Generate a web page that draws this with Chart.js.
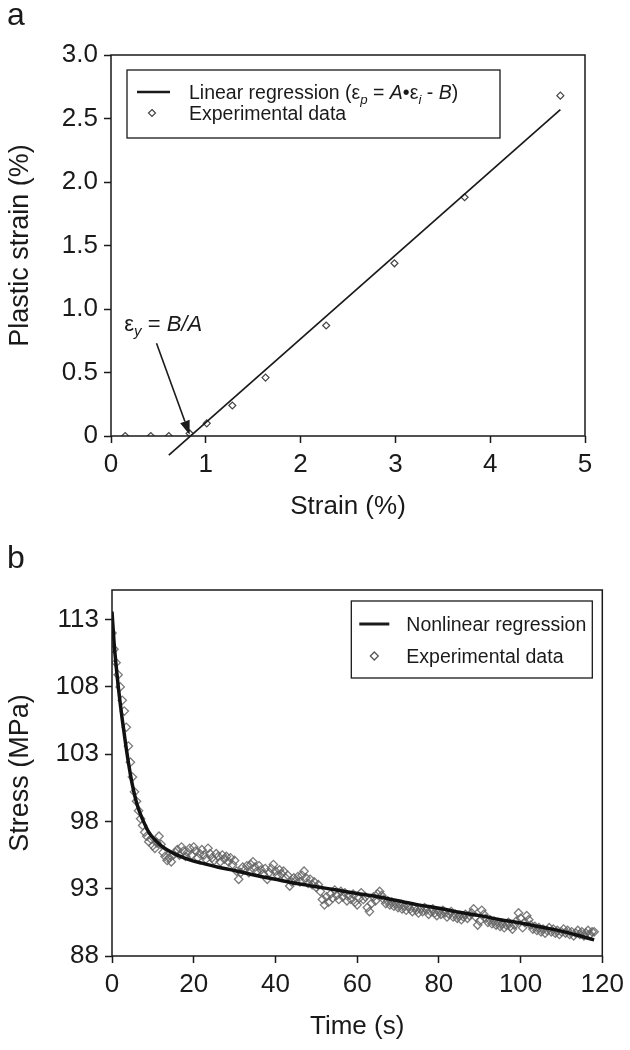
<!DOCTYPE html>
<html>
<head>
<meta charset="utf-8">
<script src="https://cdn.jsdelivr.net/npm/chart.js@4.4.1/dist/chart.umd.min.js"></script>
<style>
  html, body { margin: 0; padding: 0; background: #fff; }
  #wrap { position: relative; width: 630px; height: 1050px; }
  canvas { position: absolute; left: 0; }
  #chartA { top: 0; }
  #chartB { top: 530px; }
</style>
</head>
<body>
<div id="wrap">
  <canvas id="chartA" width="630" height="530"></canvas>
  <canvas id="chartB" width="630" height="520"></canvas>
</div>
<script>
// panel a: plastic strain vs strain
var strainX = [0.15, 0.42, 0.61, 0.83, 1.01, 1.28, 1.63, 2.27, 2.99, 3.73, 4.74]
var plasticY = [0, 0, 0, 0.02, 0.10, 0.24, 0.46, 0.87, 1.36, 1.88, 2.68]
var fitX = [0.61, 4.74]
var fitY = [-0.15, 2.57]
var strainTicks = [0, 1, 2, 3, 4, 5]
var plasticTicks = [0, 0.5, 1.0, 1.5, 2.0, 2.5, 3.0]
// annotation anchors in data units: arrow tail, arrow tip, label
var arrowFrom = [0.48, 0.73]
var arrowTo = [0.83, 0.01]
var noteAt = [0.14, 0.83]

// panel b: stress relaxation
var fitTime = [0, 0.5, 1, 1.5, 2, 2.5, 3, 3.5, 4, 4.5, 5, 6, 7, 8, 9, 10, 12, 14, 16, 19, 22, 26,
  30, 35, 40, 45, 50, 55, 60, 65, 70, 75, 80, 85, 90, 95, 100, 105, 110, 115, 118]
var fitStress = [113.6, 111.3, 109.6, 108.1, 106.8, 105.6, 104.5, 103.4, 102.4, 101.5, 100.7, 99.4,
  98.5, 97.8, 97.2, 96.8, 96.2, 95.8, 95.5, 95.15, 94.9, 94.6,
  94.35, 94.0, 93.7, 93.4, 93.15, 92.9, 92.65, 92.4, 92.1, 91.8, 91.55, 91.25, 91.0, 90.7, 90.45, 90.15, 89.85, 89.45, 89.2]
var expTime = [0,0.5,1,1.5,2,2.5,3,3.5,4,4.5,
  5,5.5,6,6.5,7,7.5,8,8.5,9,9.5,
  10,10.5,11,11.5,12,12.5,13,13.5,14,14.5,
  15,15.5,16,16.5,17,17.5,18,18.5,19,19.5,
  20,20.5,21,21.5,22,22.5,23,23.5,24,24.5,
  25,25.5,26,26.5,27,27.5,28,28.5,29,29.5,
  30,30.5,31,31.5,32,32.5,33,33.5,34,34.5,
  35,35.5,36,36.5,37,37.5,38,38.5,39,39.5,
  40,40.5,41,41.5,42,42.5,43,43.5,44,44.5,
  45,45.5,46,46.5,47,47.5,48,48.5,49,49.5,
  50,50.5,51,51.5,52,52.5,53,53.5,54,54.5,
  55,55.5,56,56.5,57,57.5,58,58.5,59,59.5,
  60,60.5,61,61.5,62,62.5,63,63.5,64,64.5,
  65,65.5,66,66.5,67,67.5,68,68.5,69,69.5,
  70,70.5,71,71.5,72,72.5,73,73.5,74,74.5,
  75,75.5,76,76.5,77,77.5,78,78.5,79,79.5,
  80,80.5,81,81.5,82,82.5,83,83.5,84,84.5,
  85,85.5,86,86.5,87,87.5,88,88.5,89,89.5,
  90,90.5,91,91.5,92,92.5,93,93.5,94,94.5,
  95,95.5,96,96.5,97,97.5,98,98.5,99,99.5,
  100,100.5,101,101.5,102,102.5,103,103.5,104,104.5,
  105,105.5,106,106.5,107,107.5,108,108.5,109,109.5,
  110,110.5,111,111.5,112,112.5,113,113.5,114,114.5,
  115,115.5,116,116.5,117,117.5,118]
var expStress = [112.0, 110.8, 109.8, 108.9, 108.0, 107.0, 106.2, 105.0, 103.6, 102.4,
  101.3, 100.2, 99.5, 98.8, 98.2, 97.7, 97.2, 96.9, 96.5, 96.7,
  96.2, 96.0, 96.4, 96.9, 96.3, 95.7, 95.4, 95.1, 95.3, 95.0,
  95.5, 95.7, 95.9, 95.5, 96.1, 95.8, 95.4, 95.7, 96.0, 95.5,
  96.1, 95.8, 95.3, 95.6, 95.9, 95.5, 95.2, 96.0, 95.6, 95.3,
  95.1, 95.6, 95.4, 95.0, 95.5, 95.2, 95.4, 95.0, 95.3, 94.8,
  95.1, 94.3, 93.7, 94.2, 94.6, 94.4, 94.7, 94.2, 94.8, 95.0,
  94.6, 94.3, 94.7, 94.4, 94.1, 94.5, 93.7, 94.2, 94.5, 94.8,
  94.3, 94.0, 94.4, 94.1, 94.3, 93.8, 94.0, 93.2, 93.5, 93.8,
  93.6, 93.9, 93.5, 94.0, 94.3, 93.8, 93.4, 93.7, 93.3, 93.5,
  93.1, 93.3, 92.8, 92.2, 91.8, 92.4, 92.0, 92.6, 92.3, 92.9,
  92.5, 92.2, 92.8, 92.4, 92.7, 92.1, 92.5, 92.2, 92.6, 92.0,
  91.8, 92.3, 92.7, 92.2, 92.4, 91.6, 91.3, 91.9, 92.4, 92.1,
  92.6, 92.8, 92.5, 92.2, 91.9, 92.1, 91.8, 92.0, 91.7, 91.9,
  91.6, 91.8, 91.5, 91.7, 91.4, 91.7, 91.5, 91.3, 91.6, 91.4,
  91.2, 91.5, 91.3, 91.6, 91.4, 91.1, 91.3, 91.5, 91.2, 91.0,
  91.3, 91.1, 91.4, 91.2, 90.9, 91.1, 91.3, 90.9, 91.1, 90.8,
  91.0, 90.7, 90.9, 91.1, 90.8, 91.0, 91.2, 91.5, 90.9, 90.3,
  90.6, 91.4, 91.1, 90.8, 90.5, 90.7, 90.4, 90.6, 90.3, 90.5,
  90.2, 90.4, 90.1, 90.3, 90.5, 90.2, 90.0, 90.3, 90.6, 91.2,
  90.8, 90.1, 90.5, 91.0, 90.7, 90.3, 90.0, 90.2, 89.9, 90.1,
  89.8, 90.0, 89.7, 89.9, 90.1, 89.8, 90.0, 89.7, 89.9, 89.6,
  89.8, 90.0, 89.7, 89.9, 89.6, 89.8, 89.5, 89.7, 89.9, 89.6,
  89.8, 89.5, 89.7, 89.9, 89.6, 89.8, 89.8]
var timeTicks = [0, 20, 40, 60, 80, 100, 120]
var stressTicks = [88, 93, 98, 103, 108, 113]

var FAMILY = '"Liberation Sans", Arial, Helvetica, sans-serif'
var INK = '#1a1a1a'
var tickFont = { family: FAMILY, size: 26 }
var titleFont = { family: FAMILY, size: 26 }
var sideTitleFont = { family: FAMILY, size: 27 }

function pairs(xs, ys) {
  return xs.map(function (x, i) { return { x: x, y: ys[i] } })
}

function diamond(ctx, x, y, r, color, lw) {
  ctx.beginPath()
  ctx.moveTo(x, y - r); ctx.lineTo(x + r, y); ctx.lineTo(x, y + r); ctx.lineTo(x - r, y)
  ctx.closePath()
  ctx.strokeStyle = color; ctx.lineWidth = lw
  ctx.stroke()
}

// draws text runs: [text, italic, sub]
function richText(ctx, x, y, runs, size) {
  ctx.textBaseline = 'alphabetic'
  ctx.textAlign = 'left'
  runs.forEach(function (r) {
    var s = r[2] ? size * 0.68 : size
    ctx.font = (r[1] ? 'italic ' : '') + s + 'px ' + FAMILY
    ctx.fillText(r[0], x, y + (r[2] ? size * 0.25 : 0))
    x += ctx.measureText(r[0]).width
  })
}

function axisSetup(min, max, ticks, title, size, fmt) {
  return {
    type: 'linear', min: min, max: max,
    afterBuildTicks: function (s) { s.ticks = ticks.map(function (v) { return { value: v } }) },
    ticks: { font: tickFont, color: INK, padding: 6, maxRotation: 0, autoSkip: false,
      callback: fmt || function (v) { return String(v) } },
    grid: { display: true, drawOnChartArea: false, drawTicks: true, tickLength: 7,
      tickWidth: 1.5, tickColor: INK, color: INK },
    border: { display: false },
    title: { display: true, text: title, font: fmt === undefined && size > 100 || size > 100 ? sideTitleFont : titleFont,
      color: INK, padding: { top: 4, bottom: 8 } },
    afterFit: function (s) { if (s.isHorizontal()) s.height = size; else s.width = size }
  }
}

var frame = {
  id: 'frame',
  afterDraw: function (chart) {
    var ctx = chart.ctx, a = chart.chartArea
    ctx.save()
    ctx.strokeStyle = INK; ctx.lineWidth = 1.5
    ctx.strokeRect(a.left, a.top, a.right - a.left, a.bottom - a.top)
    ctx.restore()
  }
}

// ---- panel a ----
var extrasA = {
  id: 'extrasA',
  afterDraw: function (chart) {
    var ctx = chart.ctx, a = chart.chartArea
    var xs = chart.scales.x, ys = chart.scales.y
    ctx.save()
    ctx.fillStyle = INK
    ctx.font = '32px ' + FAMILY
    ctx.textBaseline = 'alphabetic'
    ctx.fillText('a', 7, 25)

    // legend
    var bx = a.left + 16, by = a.top + 15, bw = 373, bh = 68
    ctx.fillStyle = '#fff'; ctx.fillRect(bx, by, bw, bh)
    ctx.strokeStyle = INK; ctx.lineWidth = 1.3; ctx.strokeRect(bx, by, bw, bh)
    ctx.beginPath(); ctx.moveTo(bx + 10, by + 22); ctx.lineTo(bx + 43, by + 22)
    ctx.lineWidth = 2.5; ctx.stroke()
    diamond(ctx, bx + 25, by + 43, 3.5, '#444', 1.2)
    ctx.fillStyle = INK
    richText(ctx, bx + 62, by + 29, [
      ['Linear regression (', 0, 0], ['\u03b5', 0, 0], ['p', 1, 1], [' = ', 0, 0], ['A', 1, 0],
      ['\u2022', 0, 0], ['\u03b5', 0, 0], ['i', 1, 1], [' - ', 0, 0], ['B', 1, 0], [')', 0, 0]
    ], 19.5)
    richText(ctx, bx + 62, by + 50, [['Experimental data', 0, 0]], 19.5)

    // yield annotation
    var tx = xs.getPixelForValue(arrowTo[0]), ty = ys.getPixelForValue(arrowTo[1])
    var fx = xs.getPixelForValue(arrowFrom[0]), fy = ys.getPixelForValue(arrowFrom[1])
    var ang = Math.atan2(ty - fy, tx - fx), hl = 14, hw = 5
    var bxp = tx - hl * Math.cos(ang), byp = ty - hl * Math.sin(ang)
    ctx.strokeStyle = INK; ctx.lineWidth = 1.6
    ctx.beginPath(); ctx.moveTo(fx, fy); ctx.lineTo(bxp, byp); ctx.stroke()
    ctx.beginPath()
    ctx.moveTo(tx, ty)
    ctx.lineTo(bxp + hw * Math.sin(ang), byp - hw * Math.cos(ang))
    ctx.lineTo(bxp - hw * Math.sin(ang), byp + hw * Math.cos(ang))
    ctx.closePath(); ctx.fill()
    richText(ctx, xs.getPixelForValue(noteAt[0]), ys.getPixelForValue(noteAt[1]), [
      ['\u03b5', 0, 0], ['y', 1, 1], [' = ', 0, 0], ['B/A', 1, 0]
    ], 22)
    ctx.restore()
  }
}

new Chart(document.getElementById('chartA'), {
  type: 'scatter',
  data: {
    datasets: [
      { label: 'Linear regression', data: pairs(fitX, fitY), showLine: true, borderColor: INK,
        borderWidth: 1.7, pointRadius: 0, clip: false, fill: false },
      { label: 'Experimental data', data: pairs(strainX, plasticY), pointStyle: 'rectRot',
        pointRadius: 3.5, pointBorderColor: '#444', pointBackgroundColor: 'rgba(255,255,255,0)',
        pointBorderWidth: 1.2 }
    ]
  },
  options: {
    responsive: false, animation: false, devicePixelRatio: 1,
    layout: { padding: { top: 55, right: 45, left: 0, bottom: 0 } },
    plugins: { legend: { display: false }, tooltip: { enabled: false } },
    scales: {
      x: axisSetup(0, 5, strainTicks, 'Strain (%)', 94),
      y: axisSetup(0, 3, plasticTicks, 'Plastic strain (%)', 111,
        function (v) { return v === 0 ? '0' : v.toFixed(1) })
    }
  },
  plugins: [frame, extrasA]
})

// ---- panel b ----
var extrasB = {
  id: 'extrasB',
  afterDraw: function (chart) {
    var ctx = chart.ctx, a = chart.chartArea
    ctx.save()
    ctx.fillStyle = INK
    ctx.font = '32px ' + FAMILY
    ctx.textBaseline = 'alphabetic'
    ctx.fillText('b', 7, 38)

    var bx = a.right - 251, by = a.top + 11, bw = 241, bh = 77
    ctx.fillStyle = '#fff'; ctx.fillRect(bx, by, bw, bh)
    ctx.strokeStyle = INK; ctx.lineWidth = 1.3; ctx.strokeRect(bx, by, bw, bh)
    ctx.beginPath(); ctx.moveTo(bx + 8, by + 23); ctx.lineTo(bx + 38, by + 23)
    ctx.lineWidth = 3; ctx.stroke()
    diamond(ctx, bx + 23, by + 55, 4, '#555', 1.3)
    ctx.fillStyle = INK
    richText(ctx, bx + 55, by + 30, [['Nonlinear regression', 0, 0]], 19.5)
    richText(ctx, bx + 55, by + 62, [['Experimental data', 0, 0]], 19.5)
    ctx.restore()
  }
}

new Chart(document.getElementById('chartB'), {
  type: 'scatter',
  data: {
    datasets: [
      { label: 'Nonlinear regression', data: pairs(fitTime, fitStress), showLine: true,
        borderColor: '#111', borderWidth: 3.5, pointRadius: 0, cubicInterpolationMode: 'monotone',
        fill: false },
      { label: 'Experimental data', data: pairs(expTime, expStress), pointStyle: 'rectRot',
        pointRadius: 4.2, pointBorderColor: 'rgba(100,100,100,0.85)',
        pointBackgroundColor: 'rgba(255,255,255,0)', pointBorderWidth: 1.3 }
    ]
  },
  options: {
    responsive: false, animation: false, devicePixelRatio: 1,
    layout: { padding: { top: 60, right: 27, left: 0, bottom: 0 } },
    plugins: { legend: { display: false }, tooltip: { enabled: false } },
    scales: {
      x: axisSetup(0, 120, timeTicks, 'Time (s)', 94),
      y: axisSetup(88, 115.2, stressTicks, 'Stress (MPa)', 112)
    }
  },
  plugins: [frame, extrasB]
})
</script>
</body>
</html>
